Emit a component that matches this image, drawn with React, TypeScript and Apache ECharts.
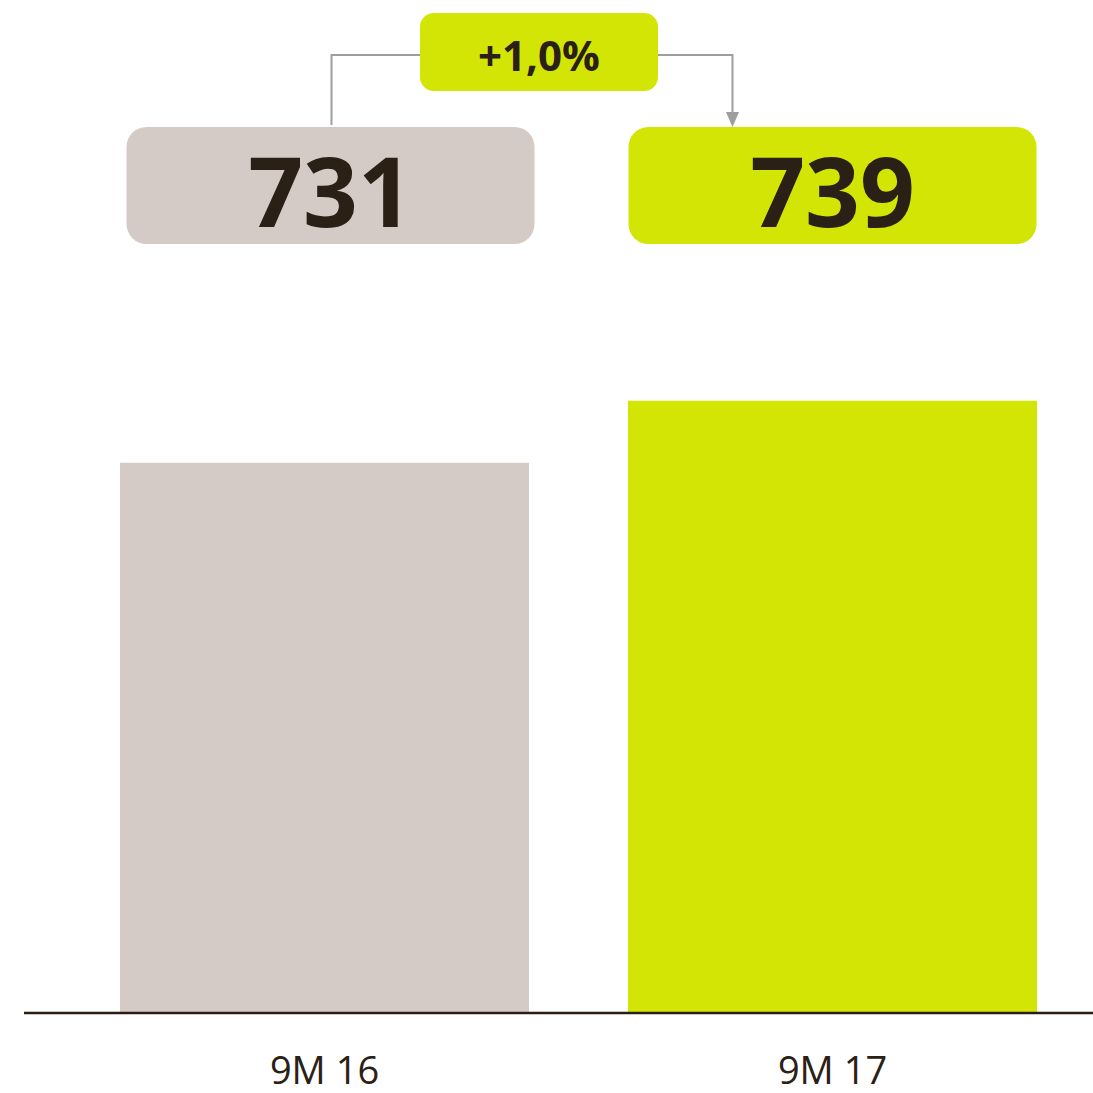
import React, { useEffect, useRef } from "react";
import * as echarts from "echarts";

const categories = ["9M 16", "9M 17"];
const values = [731, 739];
const barColors = ["#d5cbc6", "#d2e504"];
const changeLabel = "+1,0%";
const boxOffsets = [6, 0];

const TEXT = "#2b2016";
const FONT = "'Open Sans', 'Noto Sans', sans-serif";

export default function App() {
  const ref = useRef<HTMLDivElement>(null);
  useEffect(() => {
    if (!ref.current) return;
    const chart = echarts.init(ref.current, null, { renderer: "svg" });
    chart.setOption({
      animation: false,
      backgroundColor: "#ffffff",
      grid: { left: 70.5, right: 6.5, top: 393, bottom: 80 },
      xAxis: {
        type: "category",
        data: categories,
        axisLine: { show: false },
        axisTick: { show: false },
        axisLabel: { color: TEXT, fontSize: 38, lineHeight: 38, fontFamily: FONT, margin: 37 },
      },
      yAxis: { type: "value", min: 660, max: 740, show: false, splitLine: { show: false } },
      series: [
        {
          type: "bar",
          barWidth: 409,
          data: values.map((v, i) => ({ value: v, itemStyle: { color: barColors[i] } })),
        },
      ],
    });

    const centers = values.map((v, i) => chart.convertToPixel({ gridIndex: 0 }, [i, v])[0] + boxOffsets[i]);
    const boxW = 408;
    const boxH = 117;
    const boxTop = 127;
    const graphics: any[] = [
      {
        type: "line",
        shape: { x1: 24, y1: 1013, x2: 1093, y2: 1013 },
        style: { stroke: "#2b1d14", lineWidth: 2.5 },
        z: 10,
      },
    ];
    centers.forEach((cx, i) => {
      graphics.push({
        type: "rect",
        shape: { x: cx - boxW / 2, y: boxTop, width: boxW, height: boxH, r: 20 },
        style: { fill: barColors[i] },
      });
      graphics.push({
        type: "text",
        x: cx,
        y: boxTop + boxH / 2 + 4,
        style: {
          text: String(values[i]),
          fill: TEXT,
          font: `bold 96px ${FONT}`,
          align: "center",
          verticalAlign: "middle",
        },
      });
    });
    // change box and connectors
    const chW = 238;
    const chTop = 13;
    const chH = 78;
    const lineY = 55;
    const x1 = centers[0] + 1;
    const x2 = centers[1] - 100;
    const cMid = (x1 + x2) / 2 + 7;
    graphics.push({
      type: "polyline",
      shape: { points: [[x1, boxTop - 2], [x1, lineY], [cMid - chW / 2, lineY]] },
      style: { stroke: "#9e9e9e", lineWidth: 2, fill: null },
    });
    graphics.push({
      type: "polyline",
      shape: { points: [[cMid + chW / 2, lineY], [x2, lineY], [x2, boxTop - 14]] },
      style: { stroke: "#9e9e9e", lineWidth: 2, fill: null },
    });
    graphics.push({
      type: "polygon",
      shape: { points: [[x2 - 6.5, boxTop - 15], [x2 + 6.5, boxTop - 15], [x2, boxTop]] },
      style: { fill: "#9e9e9e" },
    });
    graphics.push({
      type: "rect",
      shape: { x: cMid - chW / 2, y: chTop, width: chW, height: chH, r: 14 },
      style: { fill: barColors[1] },
    });
    graphics.push({
      type: "text",
      x: cMid,
      y: chTop + chH / 2 + 2,
      style: {
        text: changeLabel,
        fill: TEXT,
        font: `bold 42px ${FONT}`,
        align: "center",
        verticalAlign: "middle",
      },
    });
    chart.setOption({ graphic: graphics });
    return () => chart.dispose();
  }, []);
  return <div ref={ref} style={{ width: 1093, height: 1093, position: "absolute", left: 0, top: 0 }} />;
}
